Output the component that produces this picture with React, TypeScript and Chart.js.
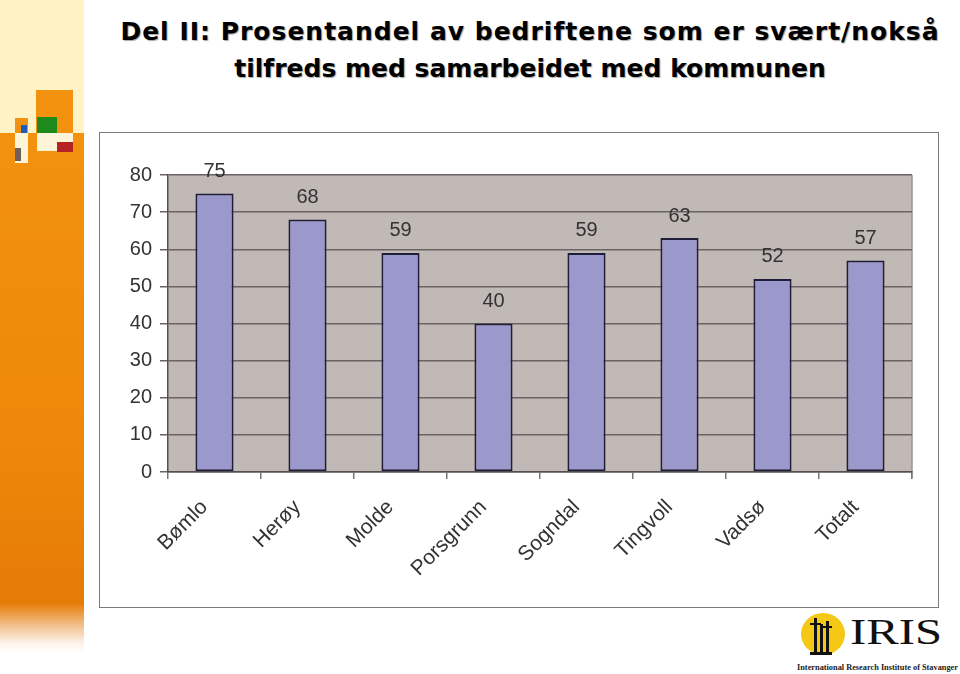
import React, { useEffect, useRef } from "react";
import { Chart, registerables } from "chart.js";

Chart.register(...registerables);

const categories = ["Bømlo", "Herøy", "Molde", "Porsgrunn", "Sogndal", "Tingvoll", "Vadsø", "Totalt"];
const values = [75, 68, 59, 40, 59, 63, 52, 57];
const yTicks = [0, 10, 20, 30, 40, 50, 60, 70, 80];

const titleLine1 = "Del II: Prosentandel av bedriftene som er svært/nokså";
const titleLine2 = "tilfreds med samarbeidet med kommunen";

const FONT = "'Liberation Sans', Arial, sans-serif";

const plotBgPlugin = {
  id: "plotBg",
  beforeDraw(chart: any) {
    const { ctx, chartArea } = chart;
    if (!chartArea) return;
    ctx.save();
    ctx.fillStyle = "#c1b9b5";
    ctx.fillRect(chartArea.left, chartArea.top, chartArea.right - chartArea.left, chartArea.bottom - chartArea.top);
    ctx.strokeStyle = "#9a9494";
    ctx.lineWidth = 1.5;
    ctx.beginPath();
    ctx.moveTo(chartArea.right, chartArea.top);
    ctx.lineTo(chartArea.right, chartArea.bottom + 6);
    ctx.stroke();
    ctx.restore();
  },
};

const valueLabelPlugin = {
  id: "valueLabels",
  afterDatasetsDraw(chart: any) {
    const { ctx } = chart;
    const meta = chart.getDatasetMeta(0);
    const data = chart.data.datasets[0].data;
    ctx.save();
    ctx.font = `20px ${FONT}`;
    ctx.fillStyle = "#333333";
    ctx.textAlign = "center";
    ctx.textBaseline = "middle";
    meta.data.forEach((bar: any, i: number) => {
      ctx.fillText(String(data[i]), bar.x, bar.y - 22);
    });
    ctx.restore();
  },
};

function ChartBox() {
  const ref = useRef<HTMLCanvasElement | null>(null);
  useEffect(() => {
    if (!ref.current) return;
    const chart = new Chart(ref.current, {
      type: "bar",
      data: {
        labels: categories,
        datasets: [
          {
            data: values,
            backgroundColor: "#9b98cc",
            borderColor: "#1f1d3a",
            borderWidth: 2,
            borderSkipped: false,
            categoryPercentage: 1,
            barPercentage: 0.41,
          },
        ],
      },
      options: {
        animation: false,
        responsive: false,
        maintainAspectRatio: false,
        layout: { padding: { top: 42, right: 26, left: 0, bottom: 0 } },
        plugins: { legend: { display: false }, tooltip: { enabled: false }, title: { display: false } },
        scales: {
          x: {
            offset: true,
            grid: {
              offset: true,
              drawOnChartArea: false,
              drawTicks: true,
              tickLength: 7,
              tickColor: "#777777",
              lineWidth: 1.5,
            },
            border: { display: true, color: "#555050", width: 1.5 },
            ticks: {
              font: { family: FONT, size: 21 },
              color: "#333333",
              maxRotation: 45,
              minRotation: 45,
              padding: 16,
              labelOffset: -10,
              autoSkip: false,
            },
            afterFit(scale: any) {
              scale.height = 135;
            },
          },
          y: {
            min: 0,
            max: 80,
            afterBuildTicks(scale: any) {
              scale.ticks = yTicks.map((v) => ({ value: v }));
            },
            grid: {
              color: "#6b6262",
              lineWidth: 1.5,
              drawTicks: true,
              tickLength: 8,
              tickColor: "#6b6262",
            },
            border: { display: true, color: "#555050", width: 1.5 },
            ticks: {
              font: { family: FONT, size: 20 },
              color: "#333333",
              padding: 8,
            },
            afterFit(scale: any) {
              scale.width = 68;
            },
          },
        },
      },
      plugins: [plotBgPlugin, valueLabelPlugin],
    });
    return () => chart.destroy();
  }, []);
  return <canvas ref={ref} width={838} height={474} style={{ display: "block", width: 838, height: 474 }} />;
}

function Decoration() {
  const abs = (l: number, t: number, w: number, h: number, bg: string): React.CSSProperties => ({
    position: "absolute",
    left: l,
    top: t,
    width: w,
    height: h,
    background: bg,
  });
  return (
    <div style={{ position: "absolute", left: 0, top: 0, width: 84, height: 674 }}>
      <div style={abs(0, 0, 84, 133, "#fff3c6")} />
      <div
        style={{
          ...abs(0, 133, 84, 520, ""),
          background:
            "linear-gradient(to bottom, #f2920f 0px, #ee880a 300px, #e67b06 470px, #f3c79a 495px, #fdf3ea 510px, #ffffff 520px)",
        }}
      />
      <div style={abs(36, 90, 37, 43, "#f2920f")} />
      <div style={abs(37, 117, 20, 16, "#1f8a1c")} />
      <div style={abs(15, 118, 13, 15, "#f2920f")} />
      <div style={abs(21, 125, 6, 8, "#1e5bb5")} />
      <div style={abs(15, 133, 13, 30, "#fdf4d8")} />
      <div style={abs(15, 148, 6, 13, "#6e6058")} />
      <div style={abs(37, 133, 36, 18, "#fdf4d8")} />
      <div style={abs(57, 142, 16, 10, "#b52222")} />
    </div>
  );
}

function Logo() {
  return (
    <svg
      width={170}
      height={66}
      viewBox="0 0 170 66"
      style={{ position: "absolute", left: 790, top: 608 }}
    >
      <ellipse cx={33} cy={26} rx={22} ry={21} fill="#f5c816" />
      <rect x={24} y={10} width={3} height={36} fill="#111" />
      <rect x={30} y={16} width={3} height={30} fill="#111" />
      <rect x={36} y={13} width={3} height={33} fill="#111" />
      <rect x={20} y={15} width={11} height={2} fill="#111" />
      <rect x={33} y={18} width={9} height={2} fill="#111" />
      <rect x={20} y={44} width={22} height={3} fill="#111" />
      <text
        x={60}
        y={36}
        fontFamily="'Liberation Serif', 'DejaVu Serif', serif"
        fontSize={36}
        fill="#111"
        textLength={92}
        lengthAdjust="spacingAndGlyphs"
      >
        IRIS
      </text>
      <text
        x={7}
        y={62}
        fontFamily="'Liberation Serif', serif"
        fontWeight="bold"
        fontSize={9}
        fill="#222"
        textLength={161}
        lengthAdjust="spacingAndGlyphs"
      >
        International Research Institute of Stavanger
      </text>
    </svg>
  );
}

export default function App() {
  const titleStyle: React.CSSProperties = {
    position: "absolute",
    left: 90,
    width: 880,
    textAlign: "center",
    fontFamily: "'DejaVu Sans', sans-serif",
    fontWeight: "bold",
    fontSize: 25,
    color: "#000",
    whiteSpace: "nowrap",
    textShadow: "1px 1px 1px rgba(0,0,0,0.35)",
  };
  return (
    <div style={{ position: "absolute", left: 0, top: 0, width: 960, height: 674, background: "#fff", overflow: "hidden" }}>
      <Decoration />
      <div style={{ ...titleStyle, top: 16, lineHeight: "32px", letterSpacing: 1 }}>{titleLine1}</div>
      <div style={{ ...titleStyle, top: 53, lineHeight: "32px" }}>{titleLine2}</div>
      <div
        style={{
          position: "absolute",
          left: 99,
          top: 132,
          width: 838,
          height: 474,
          border: "1px solid #7a7a7a",
          background: "#fff",
        }}
      >
        <ChartBox />
      </div>
      <Logo />
    </div>
  );
}
